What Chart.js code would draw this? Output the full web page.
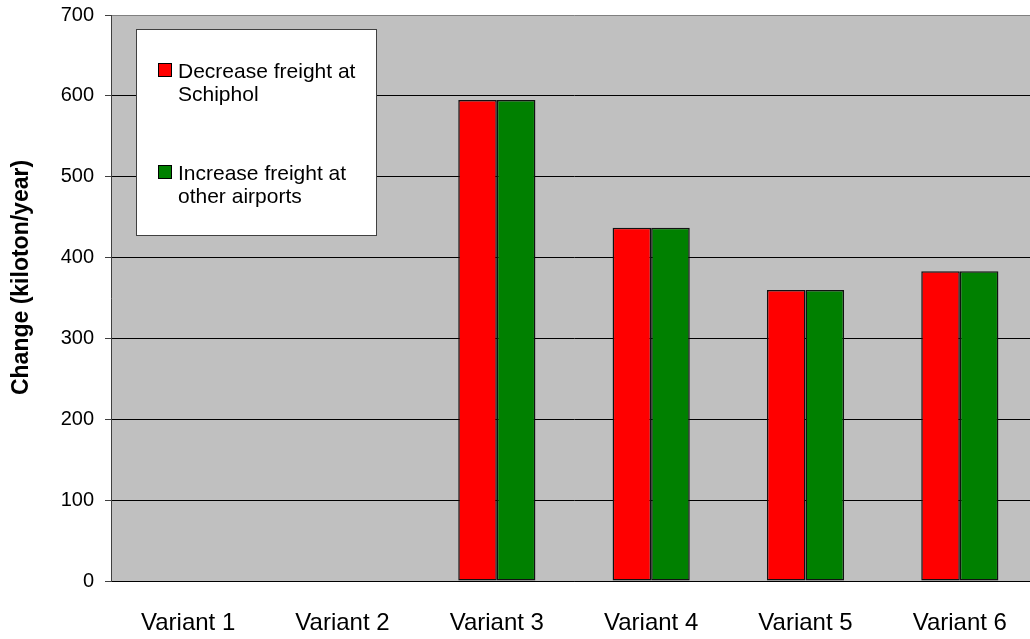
<!DOCTYPE html>
<html>
<head>
<meta charset="utf-8">
<script src="https://cdn.jsdelivr.net/npm/chart.js@4/dist/chart.umd.min.js"></script>
<style>
  html, body { margin: 0; padding: 0; background: #fff; overflow: hidden; }
  #wrap { position: relative; width: 1040px; height: 639px; }
</style>
</head>
<body>
<div id="wrap"><canvas id="c"></canvas></div>
<script>
// Freight shift per variant (kiloton/year)
const categories = ['Variant 1', 'Variant 2', 'Variant 3', 'Variant 4', 'Variant 5', 'Variant 6'];
const decreaseSchiphol = [0, 0, 595, 437, 360, 383];
const increaseOther = [0, 0, 595, 437, 360, 383];
const seriesLines = [
  ['Decrease freight at', 'Schiphol'],
  ['Increase freight at', 'other airports']
];
const yTicks = [0, 100, 200, 300, 400, 500, 600, 700];
const yTitle = 'Change (kiloton/year)';

const FONT = '"Liberation Sans", Arial, Helvetica, sans-serif';

// grey plot background
const plotBackground = {
  id: 'plotBackground',
  beforeDraw(chart) {
    const { ctx, chartArea: a } = chart;
    ctx.save();
    ctx.fillStyle = '#C0C0C0';
    ctx.fillRect(a.left, a.top, a.right - a.left, a.bottom - a.top);
    ctx.restore();
  }
};

// boxed legend with wrapped labels, plus the rotated axis title
const boxLegend = {
  id: 'boxLegend',
  afterDatasetsDraw(chart) {
    const ctx = chart.ctx;
    ctx.save();
    const bx = 136, by = 29, bw = 240, bh = 206;
    ctx.fillStyle = '#fff';
    ctx.fillRect(bx, by, bw, bh);
    ctx.strokeStyle = '#404040';
    ctx.lineWidth = 1;
    ctx.strokeRect(bx + 0.5, by + 0.5, bw, bh);

    ctx.font = '21px ' + FONT;
    ctx.textAlign = 'left';
    ctx.textBaseline = 'alphabetic';
    const firstBaselines = [78, 180];
    chart.data.datasets.forEach((ds, i) => {
      const base = firstBaselines[i];
      ctx.fillStyle = ds.backgroundColor;
      ctx.fillRect(158.5, base - 14.5, 13, 13);
      ctx.strokeStyle = '#000';
      ctx.lineWidth = 1;
      ctx.strokeRect(158.5, base - 14.5, 13, 13);
      ctx.fillStyle = '#000';
      seriesLines[i].forEach((line, j) => {
        ctx.fillText(line, 178, base + j * 23);
      });
    });
    ctx.restore();
  },
  afterDraw(chart) {
    const ctx = chart.ctx;
    ctx.save();
    ctx.translate(28, 277.5);
    ctx.rotate(-Math.PI / 2);
    ctx.font = 'bold 23px ' + FONT;
    ctx.fillStyle = '#000';
    ctx.textAlign = 'center';
    ctx.textBaseline = 'alphabetic';
    ctx.fillText(yTitle, 0, 0);
    ctx.restore();
  }
};

new Chart(document.getElementById('c'), {
  type: 'bar',
  data: {
    labels: categories,
    datasets: [
      {
        label: seriesLines[0].join(' '),
        data: decreaseSchiphol,
        backgroundColor: '#FF0000',
        borderColor: '#111',
        borderWidth: 1.5,
        borderSkipped: false
      },
      {
        label: seriesLines[1].join(' '),
        data: increaseOther,
        backgroundColor: '#008000',
        borderColor: '#111',
        borderWidth: 1.5,
        borderSkipped: false
      }
    ]
  },
  options: {
    responsive: true,
    maintainAspectRatio: false,
    animation: false,
    layout: { padding: { top: 15, right: 3, left: 0, bottom: 0 } },
    datasets: { bar: { categoryPercentage: 0.5, barPercentage: 1.0 } },
    plugins: {
      legend: { display: false },
      tooltip: { enabled: false }
    },
    scales: {
      x: {
        grid: { display: false, drawTicks: false, tickLength: 0 },
        border: { display: true, color: '#000', width: 1 },
        ticks: { color: '#000', font: { family: FONT, size: 24 }, padding: 28, maxRotation: 0 },
        afterFit(s) { s.height = 58; s.paddingLeft = 0; s.paddingRight = 0; }
      },
      y: {
        min: 0,
        max: 700,
        afterBuildTicks(s) { s.ticks = yTicks.map(v => ({ value: v })); },
        grid: {
          color: ctx => (ctx.tick && ctx.tick.value === 700 ? '#808080' : '#000'),
          tickColor: '#404040',
          tickLength: 6,
          drawTicks: true,
          lineWidth: 1
        },
        border: { display: true, color: '#404040', width: 1 },
        ticks: { color: '#000', font: { family: FONT, size: 20 }, padding: 11 },
        afterFit(s) { s.width = 111; s.paddingTop = 0; s.paddingBottom = 0; }
      }
    }
  },
  plugins: [plotBackground, boxLegend]
});
</script>
</body>
</html>
